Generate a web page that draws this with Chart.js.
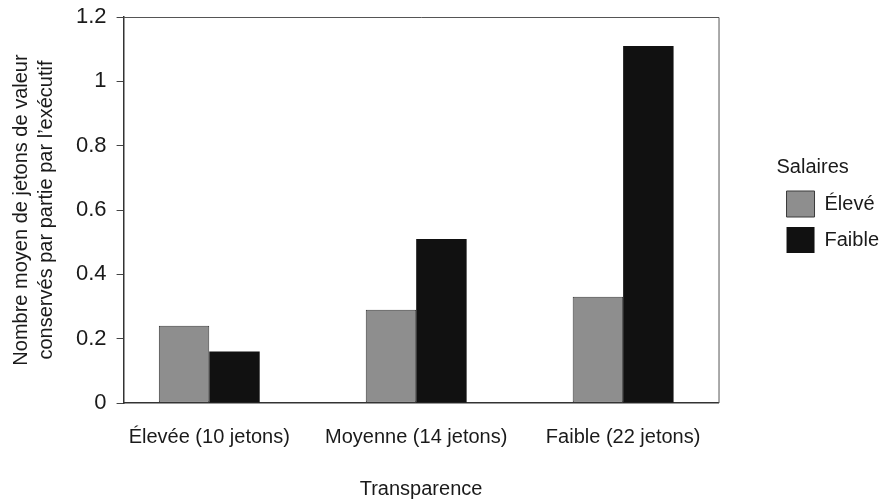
<!DOCTYPE html>
<html>
<head>
<meta charset="utf-8">
<script src="https://cdn.jsdelivr.net/npm/chart.js@4/dist/chart.umd.min.js"></script>
<style>
  html, body { margin: 0; padding: 0; background: #fff; }
  #wrap { width: 882px; height: 502px; }
</style>
</head>
<body>
<div id="wrap"><canvas id="chart"></canvas></div>
<script>
// Data
const categories = ["Élevée (10 jetons)", "Moyenne (14 jetons)", "Faible (22 jetons)"];
const seriesNames = ["Élevé", "Faible"];
const highSalary = [0.24, 0.29, 0.33];
const lowSalary = [0.16, 0.51, 1.11];
const yTicks = [0, 0.2, 0.4, 0.6, 0.8, 1, 1.2];

const font = "'Liberation Sans', Arial, Helvetica, sans-serif";
const textColor = "#1a1a1a";

// categories sit at x = 1, 2, 3 on a linear axis
const positions = categories.map(function (c, i) { return i + 1; });
function toPoints(values) {
  return values.map(function (v, i) { return { x: positions[i], y: v }; });
}

// thin frame on top and right of the plot area
const framePlugin = {
  id: "frame",
  afterDraw: function (chart) {
    const a = chart.chartArea;
    const ctx = chart.ctx;
    ctx.save();
    ctx.strokeStyle = "#555";
    ctx.lineWidth = 1;
    ctx.beginPath();
    ctx.moveTo(a.left, a.top + 0.5);
    ctx.lineTo(a.right + 0.5, a.top + 0.5);
    ctx.lineTo(a.right + 0.5, a.bottom);
    ctx.stroke();
    ctx.restore();
  }
};

new Chart(document.getElementById("chart"), {
  type: "bar",
  data: {
    datasets: [
      {
        label: seriesNames[0],
        data: toPoints(highSalary),
        backgroundColor: "#8e8e8e",
        borderColor: "#3a3a3a",
        borderWidth: 1,
        borderSkipped: false
      },
      {
        label: seriesNames[1],
        data: toPoints(lowSalary),
        backgroundColor: "#111111",
        borderWidth: 0
      }
    ]
  },
  options: {
    responsive: true,
    maintainAspectRatio: false,
    animation: false,
    categoryPercentage: 0.4875,
    barPercentage: 1,
    layout: { padding: { top: 17, left: 1, right: -7, bottom: 1 } },
    plugins: {
      tooltip: { enabled: false },
      legend: {
        position: "right",
        align: "start",
        title: {
          display: true,
          text: "Salaires",
          position: "start",
          padding: { top: 140, bottom: 0 },
          color: textColor,
          font: { family: font, size: 20 }
        },
        labels: {
          boxWidth: 28,
          boxHeight: 26,
          padding: 10,
          color: textColor,
          font: { family: font, size: 20 }
        }
      }
    },
    scales: {
      x: {
        type: "linear",
        offset: false,
        min: 0.586,
        max: 3.461,
        afterBuildTicks: function (scale) {
          scale.ticks = positions.map(function (p) { return { value: p }; });
        },
        grid: { display: false, drawTicks: false },
        border: { display: true, color: "#333", width: 1.5 },
        ticks: {
          autoSkip: false,
          maxRotation: 0,
          padding: 22,
          color: textColor,
          font: { family: font, size: 20, lineHeight: 1.2 },
          callback: function (v) { return categories[Math.round(v) - 1]; }
        },
        title: {
          display: true,
          text: "Transparence",
          color: textColor,
          padding: { top: 6, bottom: 0 },
          font: { family: font, size: 20, lineHeight: 1.2 }
        }
      },
      y: {
        min: 0,
        max: 1.2,
        afterBuildTicks: function (scale) {
          scale.ticks = yTicks.map(function (t) { return { value: t }; });
        },
        grid: { drawOnChartArea: false, drawTicks: true, tickLength: 7, color: "#444" },
        border: { display: true, color: "#333", width: 1.5 },
        ticks: {
          padding: 10,
          color: textColor,
          font: { family: font, size: 22, lineHeight: 0.6 },
          callback: function (v) { return String(v); }
        },
        title: {
          display: true,
          text: ["Nombre moyen de jetons de valeur", "conservés par partie par l’exécutif"],
          color: textColor,
          padding: { top: 8, bottom: 7 },
          font: { family: font, size: 20, lineHeight: 1.25 }
        }
      },
      spacer: {
        type: "linear",
        position: "right",
        display: true,
        grid: { display: false },
        border: { display: false },
        ticks: { display: false },
        afterFit: function (scale) { scale.width = 58; }
      }
    }
  },
  plugins: [framePlugin]
});
</script>
</body>
</html>
